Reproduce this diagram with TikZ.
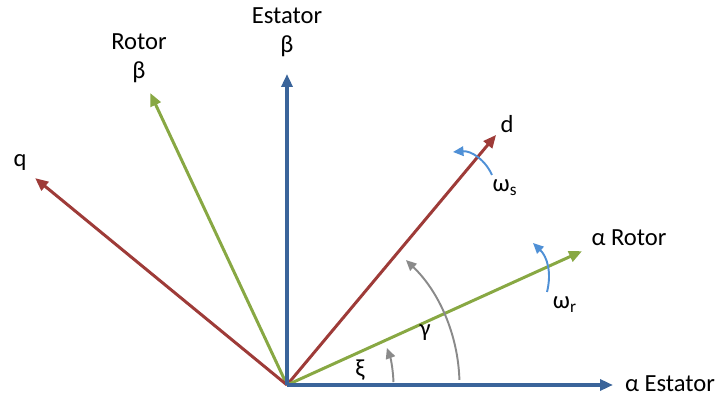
\documentclass[tikz,border=0pt]{standalone}
\usepackage{fontspec}
\setmainfont{Carlito}
\usetikzlibrary{positioning,arrows.meta,calc}
\definecolor{stat}{HTML}{3A649A}
\definecolor{rot}{HTML}{88A843}
\definecolor{dq}{HTML}{9E3B38}
\definecolor{spin}{HTML}{4F90D6}
\definecolor{ang}{HTML}{8A8A8A}

\begin{document}
\begin{tikzpicture}[
  font=\fontsize{14}{16.5}\selectfont,>={Triangle[length=2.6mm,width=2.2mm]},
  axis/.style={->,line width=1.7pt},
  turn/.style={->,line width=1.1pt,>={Triangle[length=2.1mm,width=1.9mm]}},
  lbl/.style={inner sep=1pt,align=center},
]
\useasboundingbox (-5.74,-0.28) rectangle (8.66,7.70);
\coordinate (O) at (0,0);
% stator, rotor and dq frames
\coordinate (aS) at (6.52,0);
\coordinate (bS) at (0,6.22);
\coordinate (aR) at (24.4:6.48);
\coordinate (bR) at (115.1:6.45);
\coordinate (d) at (50.1:6.52);
\coordinate (q) at (140.6:6.52);
\foreach \tip/\col in {bR/rot,q/dq,d/dq,aR/rot}{
  \draw[axis,\col] (O) -- (\tip);
}
\foreach \tip in {aS,bS}{
  \draw[axis,stat,line width=2pt] (O) -- (\tip);
}
\node[lbl] (aSl) at (7.66,0.02) {α Estator};
\node[lbl] (bSl) at (0,7.05) {Estator\\β};
\node[lbl] (aRl) at (6.84,2.94) {α Rotor};
\node[lbl] (bRl) at (-2.96,6.54) {Rotor\\β};
\node[lbl] (dl) at (4.40,5.22) {d};
\node[lbl] (ql) at (-5.34,4.44) {q};
% speeds
\coordinate (ws0) at (4.10,4.20);
\coordinate (ws1) at (3.32,4.66);
\draw[turn,spin] (ws0) to[bend right=35] (ws1);
\node[lbl] (wsl) at (4.36,3.94) {ω\textsubscript{s}};
\coordinate (wr0) at (5.20,1.86);
\coordinate (wr1) at (4.92,2.84);
\draw[turn,spin] (wr0) to[bend right=30] (wr1);
\node[lbl] (wrl) at (5.56,1.60) {ω\textsubscript{r}};
% angles
\coordinate (xi0) at (1.6:2.13);
\draw[turn,ang] (xi0) arc[start angle=1.6,end angle=20.3,radius=2.13];
\node[lbl] (xil) at (1.46,0.30) {ξ};
\coordinate (ga0) at (1.7:3.45);
\draw[turn,ang] (ga0) arc[start angle=1.7,end angle=46.4,radius=3.45];
\node[lbl] (gal) at (2.76,1.04) {γ};
\end{tikzpicture}
\end{document}
